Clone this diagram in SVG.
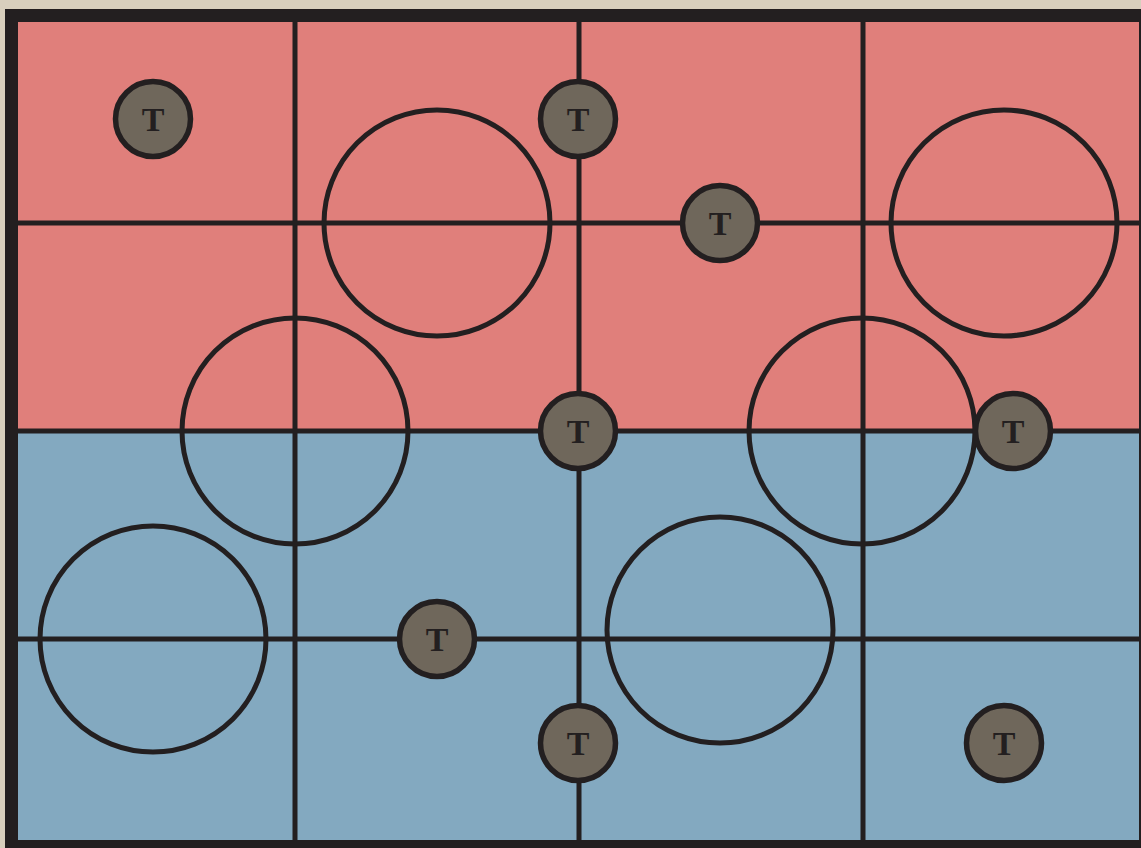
<svg xmlns="http://www.w3.org/2000/svg" width="1141" height="848" viewBox="0 0 1141 848">
<style>
.grid{stroke:#231f20;stroke-width:5;fill:none}
.ring{stroke:#231f20;stroke-width:5;fill:none}
.tok circle{fill:#6f675b;stroke:#231f20;stroke-width:5.5}
.tok text{font-family:"Liberation Serif","DejaVu Serif",serif;font-weight:bold;font-size:34px;fill:#231f20;text-anchor:middle}
</style>
<rect x="0" y="0" width="1141" height="848" fill="#d8cfbd"/>
<rect x="18" y="22" width="1125" height="409" fill="#e07f7b"/>
<rect x="18" y="431" width="1125" height="412" fill="#83a9c0"/>
<g id="connectors">
<line class="grid" x1="295" y1="22" x2="295" y2="842"/>
<line class="grid" x1="579" y1="22" x2="579" y2="842"/>
<line class="grid" x1="863" y1="22" x2="863" y2="842"/>
<line class="grid" x1="18" y1="223" x2="1141" y2="223"/>
<line class="grid" x1="18" y1="431" x2="1141" y2="431"/>
<line class="grid" x1="18" y1="639" x2="1141" y2="639"/>
</g>
<rect x="11.5" y="15.5" width="1134" height="831" fill="none" stroke="#231f20" stroke-width="13"/>
<g id="rings">
<circle id="ring1" class="ring" cx="437" cy="223" r="113"/>
<circle id="ring2" class="ring" cx="1004" cy="223" r="113"/>
<circle id="ring3" class="ring" cx="295" cy="431" r="113"/>
<circle id="ring4" class="ring" cx="862" cy="431" r="113"/>
<circle id="ring5" class="ring" cx="153" cy="639" r="113"/>
<circle id="ring6" class="ring" cx="720" cy="630" r="113"/>
</g>
<g id="t1" class="tok"><circle cx="153" cy="119" r="37.5"/><text x="153" y="131">T</text></g>
<g id="t2" class="tok"><circle cx="578" cy="119" r="37.5"/><text x="578" y="131">T</text></g>
<g id="t3" class="tok"><circle cx="720" cy="223" r="37.5"/><text x="720" y="235">T</text></g>
<g id="t4" class="tok"><circle cx="578" cy="431" r="37.5"/><text x="578" y="443">T</text></g>
<g id="t5" class="tok"><circle cx="1013" cy="431" r="37.5"/><text x="1013" y="443">T</text></g>
<g id="t6" class="tok"><circle cx="437" cy="639" r="37.5"/><text x="437" y="651">T</text></g>
<g id="t7" class="tok"><circle cx="578" cy="743" r="37.5"/><text x="578" y="755">T</text></g>
<g id="t8" class="tok"><circle cx="1004" cy="743" r="37.5"/><text x="1004" y="755">T</text></g>
</svg>
